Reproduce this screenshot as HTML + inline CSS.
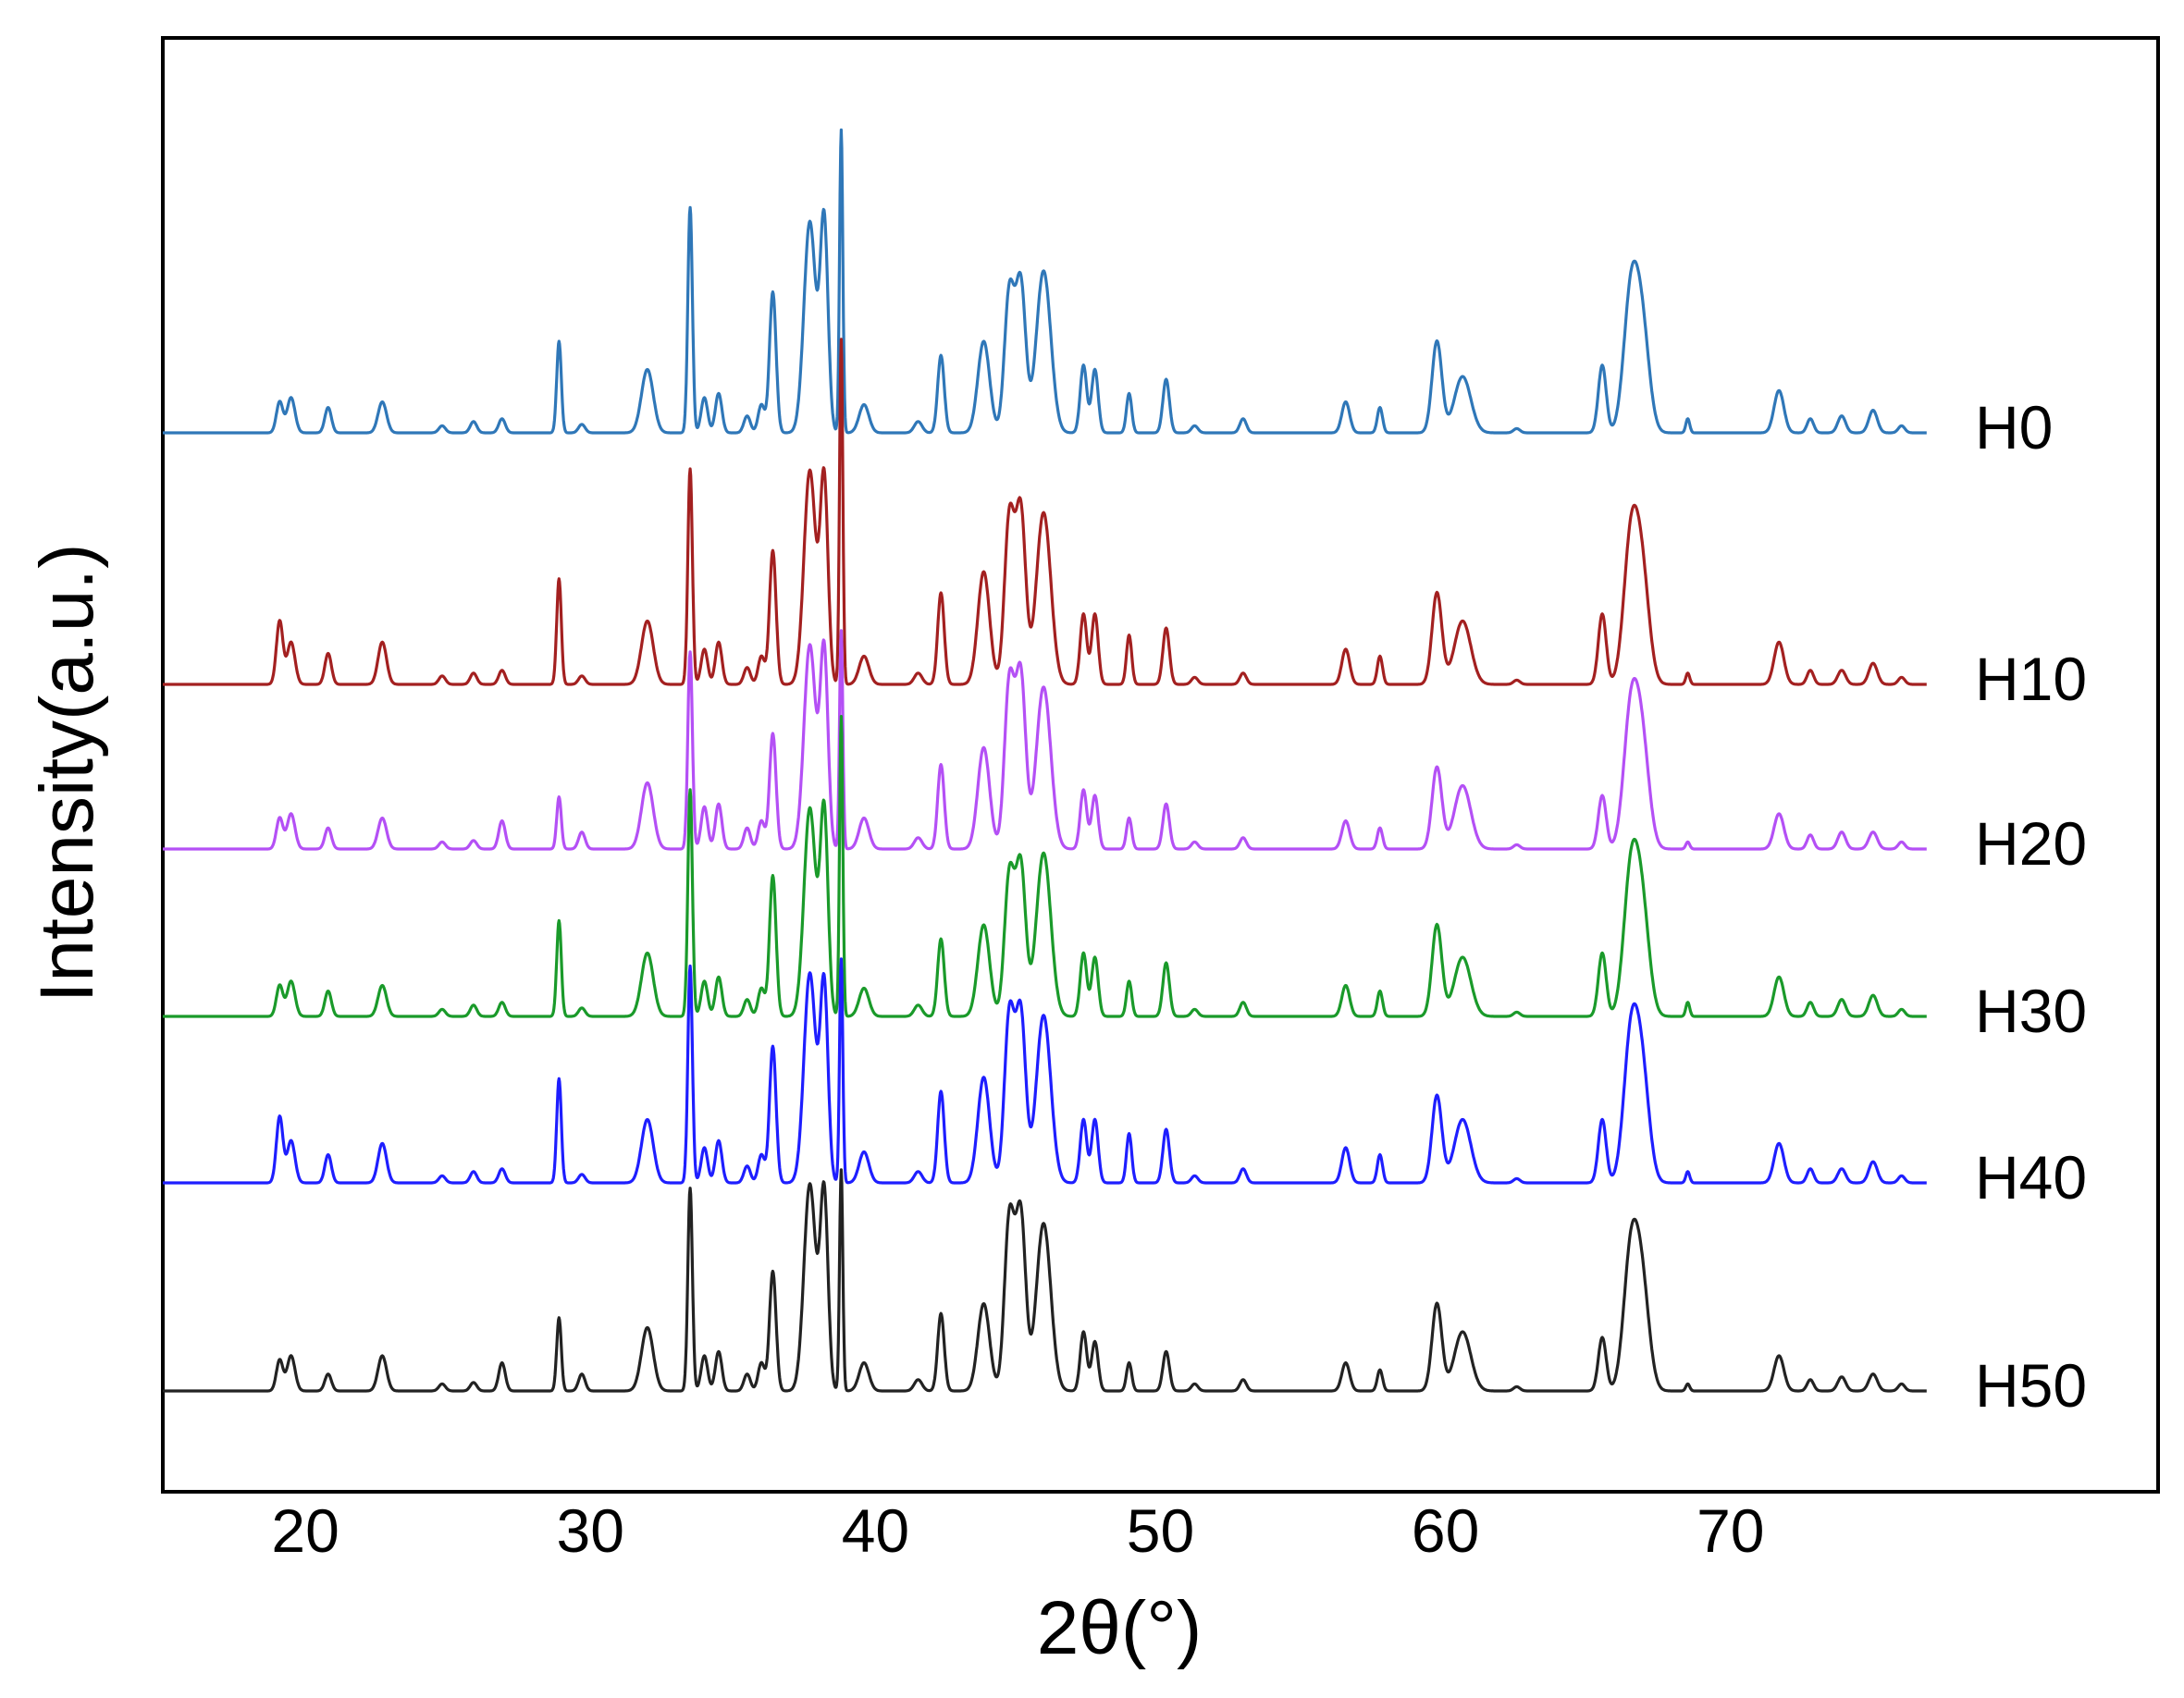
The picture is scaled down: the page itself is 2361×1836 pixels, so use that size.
<!DOCTYPE html>
<html><head><meta charset="utf-8">
<style>
html,body{margin:0;padding:0;background:#fff;}
svg{display:block;}
text{font-family:"Liberation Sans",Arial,sans-serif;fill:#000;}
</style></head>
<body>
<svg id="chart" width="2361" height="1836" viewBox="0 0 2361 1836" xmlns="http://www.w3.org/2000/svg">
  <rect x="176" y="41" width="2157" height="1572" fill="none" stroke="#000" stroke-width="4"/>
  <g id="traces"></g>
  <g id="xticks"></g>
  <g id="labels"></g>
  <text x="1210" y="1788" font-size="82" text-anchor="middle">2θ(°)</text>
  <text x="0" y="0" font-size="82" text-anchor="middle" transform="translate(100,836) rotate(-90)">Intensity(a.u.)</text>
</svg>
<script>
// Peak positions (2θ), widths (sigma, degrees)
const peakPos = [19.1,19.5,20.8,22.7,24.8,25.9,26.9,28.9,29.7,32.0,33.5,34.0,34.5,35.5,36.0,36.4,37.7,38.2,38.8,39.6,41.5,42.3,43.8,44.7,45.1,45.9,47.3,47.7,48.9,50.2,51.2,52.9,56.5,57.7,59.7,60.6,62.5,65.5,66.5,66.9,68.5,71.7,72.8,73.9,75.0,76.0];
const peakWid = [0.1,0.12,0.1,0.13,0.1,0.1,0.1,0.07,0.1,0.18,0.07,0.1,0.1,0.1,0.1,0.1,0.18,0.12,0.05,0.15,0.12,0.1,0.18,0.15,0.15,0.22,0.1,0.1,0.08,0.1,0.1,0.1,0.12,0.08,0.15,0.25,0.1,0.12,0.22,0.22,0.06,0.15,0.1,0.12,0.13,0.1];
// Series heights (display units above each baseline)
const seriesNames = ["H0","H10","H20","H30","H40","H50"];
const seriesColors = ["#2f77b8","#a32020","#b450f5","#1a9a2a","#1e1eff","#222222"];
const baselines = [468,740,918,1099,1279,1504];
const hH0  = [22,25,18,22,5,8,10,65,6,45,160,25,28,12,20,100,150,150,215,20,8,55,65,100,105,115,48,45,28,38,5,10,22,18,65,40,3,48,94,70,10,30,10,12,16,5];
const hH10 = [45,30,22,30,6,8,10,75,6,45,153,25,30,12,20,95,152,145,245,20,8,65,80,118,122,122,50,50,35,40,5,8,25,20,65,45,3,50,98,73,8,30,10,10,15,5];
const hH20 = [22,25,15,22,5,6,20,37,12,47,140,30,32,15,20,82,145,140,155,22,8,60,72,118,122,115,42,38,22,32,5,8,20,15,58,45,3,38,93,70,5,25,10,12,12,5];
const hH30 = [22,25,18,22,5,8,10,68,6,45,161,25,28,12,20,100,148,145,213,20,8,55,65,100,106,116,45,42,25,38,5,10,22,18,65,42,3,45,97,72,10,28,10,12,15,5];
const hH40 = [47,30,20,28,5,8,10,74,6,45,154,25,30,12,20,97,149,140,159,22,8,65,75,119,119,119,45,45,35,38,5,10,25,20,62,45,3,45,98,73,8,28,10,10,15,5];
const hH50 = [22,25,12,25,5,6,20,52,12,45,144,25,28,12,20,85,147,140,157,20,8,55,62,122,124,119,42,35,20,28,5,8,20,15,62,42,3,38,94,70,5,25,8,10,12,5];
const seriesHeights = [hH0,hH10,hH20,hH30,hH40,hH50];
const xTicks = [20,30,40,50,60,70];

const X0=15, X1=85, PX0=176, PX1=2333;
const kY = 1.523;
const widthScale = 1.15;
function xs(v){return PX0+(v-X0)*(PX1-PX0)/(X1-X0);}
function ys(base,h){return base-h*kY;}
const NS="http://www.w3.org/2000/svg";
const traces=document.getElementById('traces');
seriesNames.forEach((name,si)=>{
  const hs=seriesHeights[si];
  let d="";
  for(let t=15.0;t<=76.9;t+=0.02){
    let y=0;
    for(let p=0;p<peakPos.length;p++){
      const z=(t-peakPos[p])/(peakWid[p]*widthScale);
      if(Math.abs(z)<6) y+=hs[p]*Math.exp(-0.5*z*z);
    }
    d+=(d?"L":"M")+xs(t).toFixed(1)+","+ys(baselines[si],y).toFixed(1);
  }
  const path=document.createElementNS(NS,'path');
  path.setAttribute('d',d);
  path.setAttribute('fill','none');
  path.setAttribute('stroke',seriesColors[si]);
  path.setAttribute('stroke-width','3.2');
  path.setAttribute('stroke-linejoin','round');
  
  
  traces.appendChild(path);
  const lab=document.createElementNS(NS,'text');
  lab.setAttribute('x','2135');
  lab.setAttribute('y',(baselines[si]+17).toString());
  lab.setAttribute('font-size','66');
  lab.textContent=name;
  
  
  document.getElementById('labels').appendChild(lab);
});
const xt=document.getElementById('xticks');
xTicks.forEach(v=>{
  const t=document.createElementNS(NS,'text');
  t.setAttribute('x',xs(v).toFixed(1));
  t.setAttribute('y','1678');
  t.setAttribute('font-size','66');
  t.setAttribute('text-anchor','middle');
  t.textContent=v;
  
  
  xt.appendChild(t);
});
</script>
</body></html>
